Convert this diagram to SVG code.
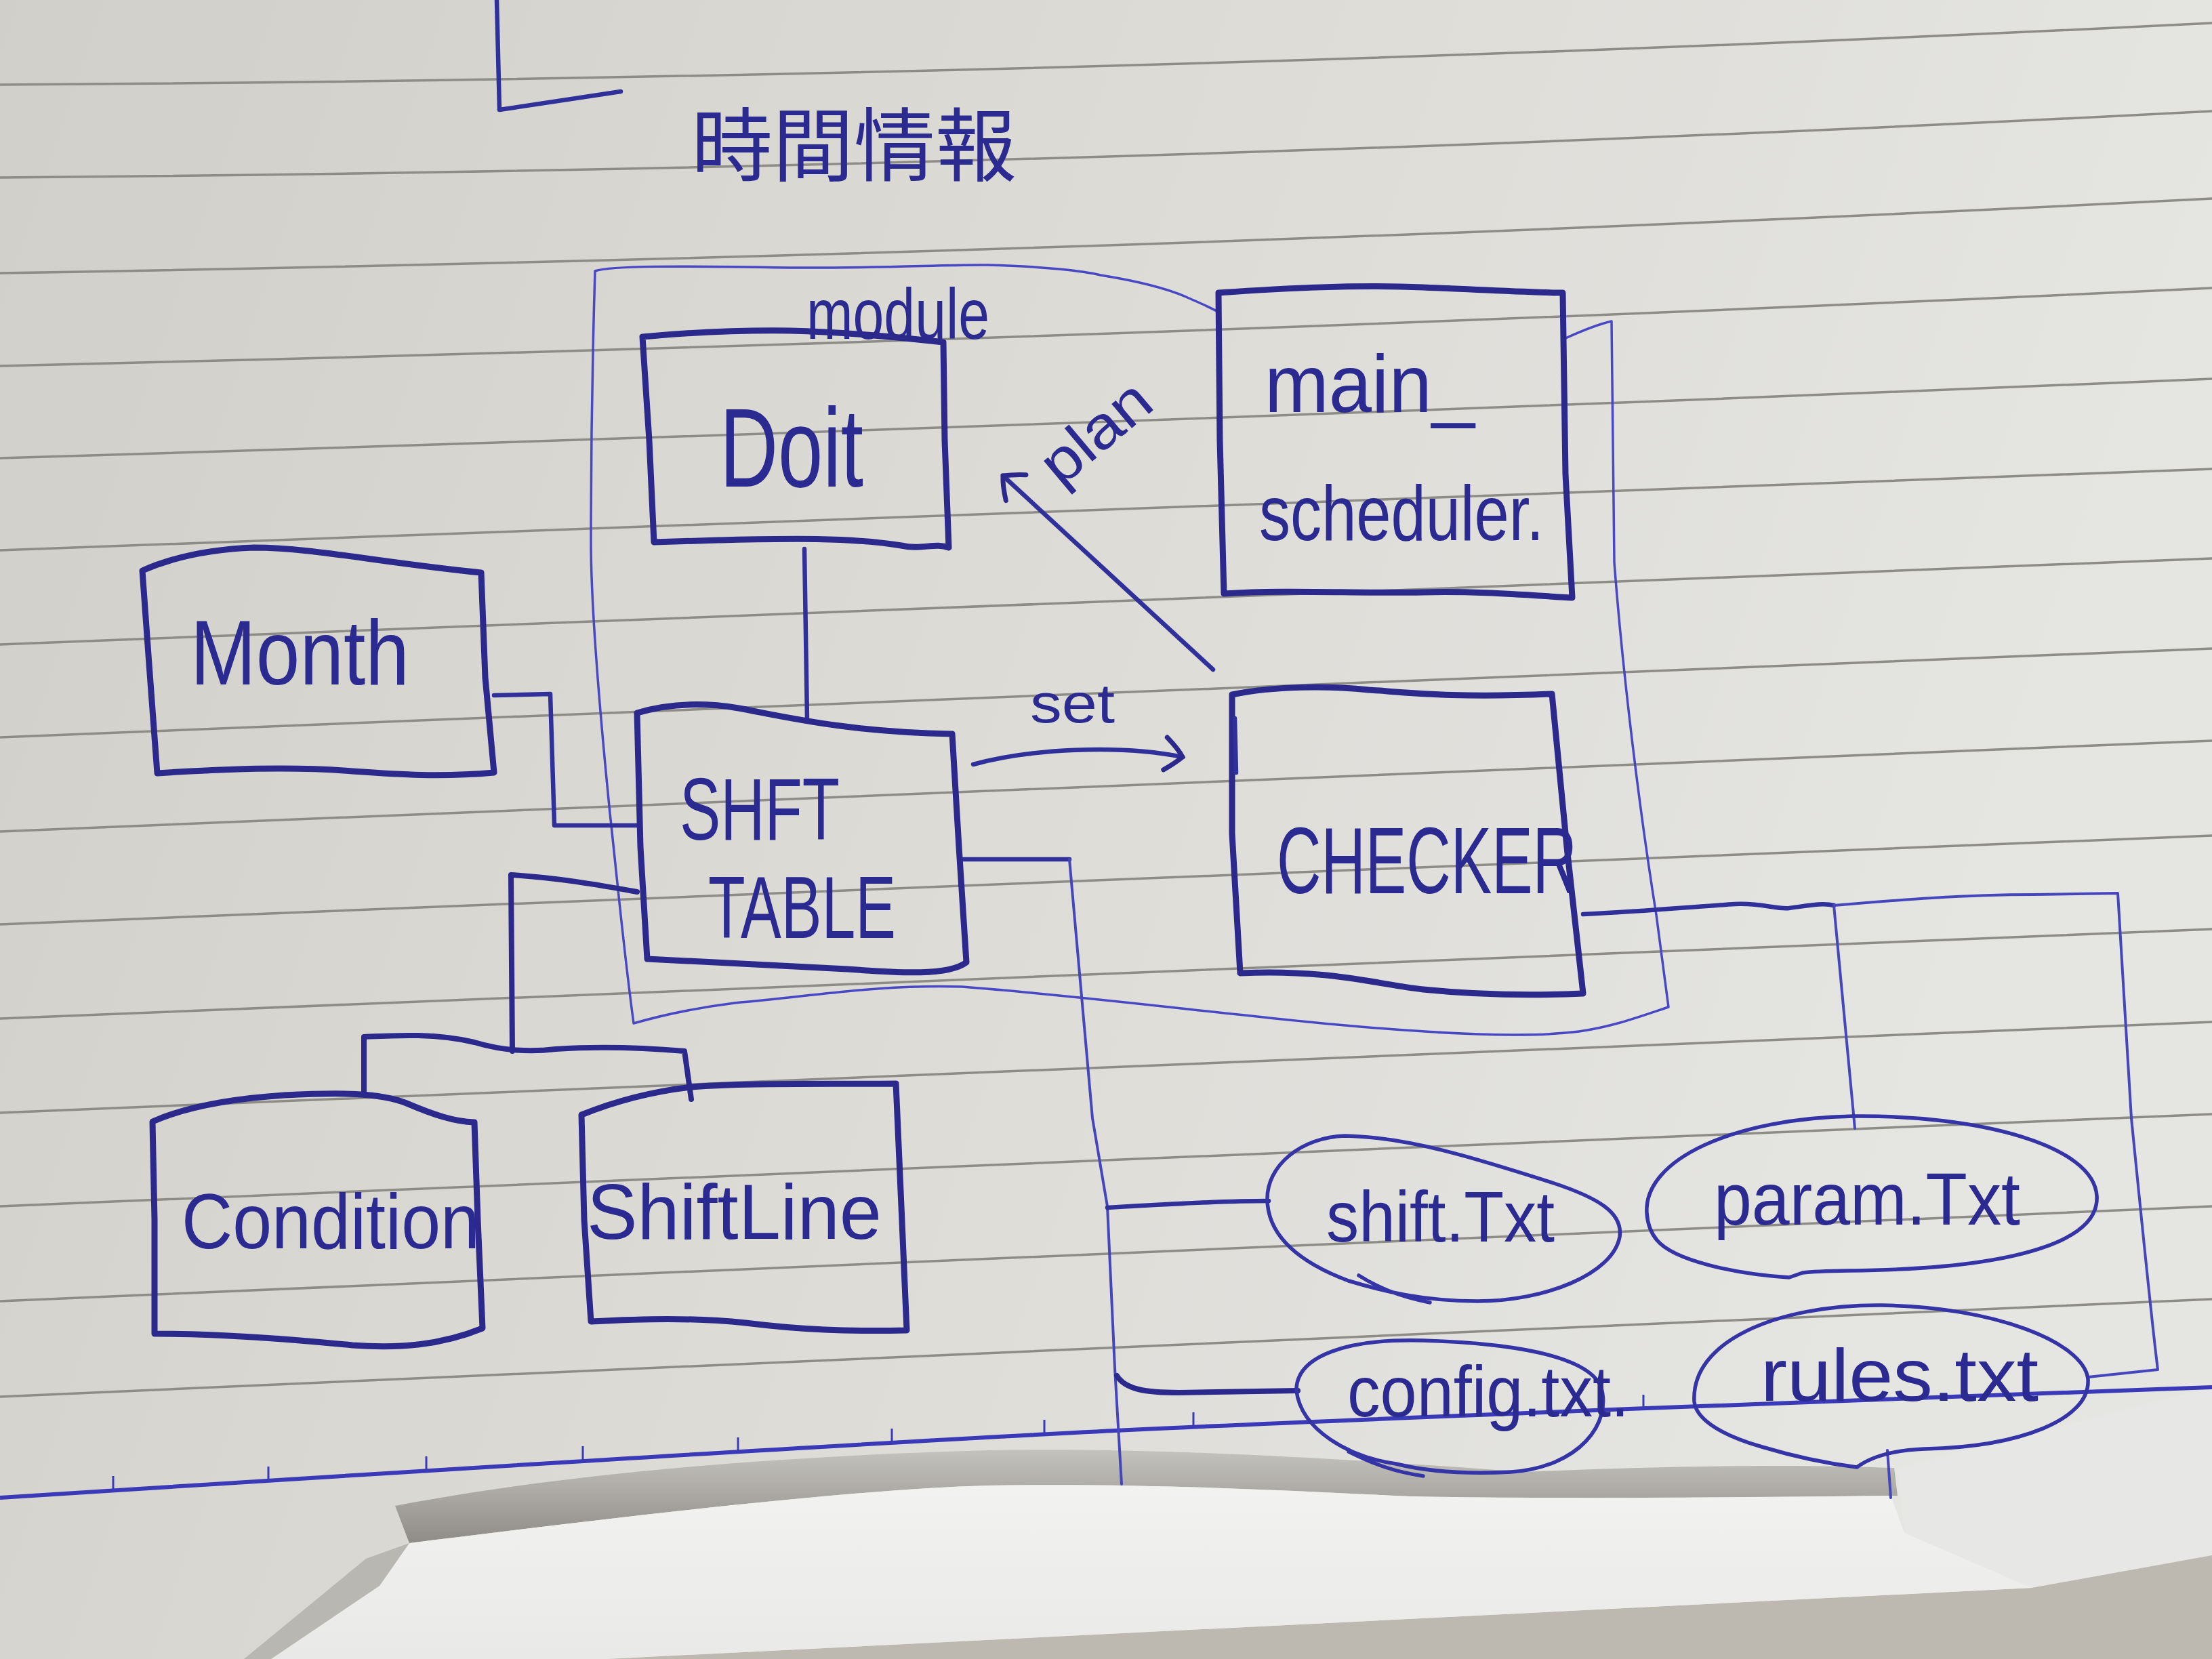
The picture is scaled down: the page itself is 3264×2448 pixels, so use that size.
<svg xmlns="http://www.w3.org/2000/svg" width="3264" height="2448" viewBox="0 0 3264 2448">
<defs>
<linearGradient id="paper" x1="0" y1="0" x2="1" y2="0.25">
<stop offset="0" stop-color="#d0cfc9"/>
<stop offset="0.5" stop-color="#dcdbd6"/>
<stop offset="1" stop-color="#e5e5e2"/>
</linearGradient>
<linearGradient id="shadow" x1="0" y1="0" x2="0" y2="1">
<stop offset="0" stop-color="#c4c2bd"/>
<stop offset="1" stop-color="#8f8c87"/>
</linearGradient>
<linearGradient id="flap" x1="0" y1="0" x2="0" y2="1">
<stop offset="0" stop-color="#f2f2f1"/>
<stop offset="1" stop-color="#e9e9e8"/>
</linearGradient>
<marker id="chev" viewBox="-40 -30 50 60" refX="0" refY="0" markerWidth="50" markerHeight="60" markerUnits="userSpaceOnUse" orient="auto">
<path d="M -28,-24 Q -8,-10 0,0 Q -10,12 -24,24" fill="none" stroke="#2b2a8c" stroke-width="7" stroke-linecap="round"/>
</marker>
<style>
.rule{stroke:#8d8c86;stroke-width:3.5;fill:none}
.box{fill:none;stroke:#2b2a8c;stroke-width:9;stroke-linejoin:round;stroke-linecap:round}
.oval{fill:none;stroke:#3434a6;stroke-width:5.5;stroke-linejoin:round;stroke-linecap:round}
.thin{fill:none;stroke:#4646bc;stroke-width:4;stroke-linecap:round;stroke-linejoin:round}
.mid{fill:none;stroke:#30309a;stroke-width:6.5;stroke-linecap:round;stroke-linejoin:round}
.thick{fill:none;stroke:#2b2a8c;stroke-width:8;stroke-linecap:round;stroke-linejoin:round}
.bound{fill:none;stroke:#4848c4;stroke-width:3.5;stroke-linecap:round;stroke-linejoin:round}
text{font-family:"Liberation Sans","DejaVu Sans","Noto Sans CJK JP",sans-serif;fill:#2a2a90}
.jp{font-family:"Noto Sans CJK JP","Noto Sans CJK SC",sans-serif;fill:#2a2a90}
</style>
</defs>

<g id="paper-bg">
<rect x="0" y="0" width="3264" height="2448" fill="url(#paper)"/>
<path class="rule" d="M0,125 Q1632,115 3264,34 M0,262 Q1632,249 3264,164 M0,403 Q1632,376 3264,293 M0,540 Q1632,502 3264,425 M0,676 Q1632,627 3264,559 M0,812 L3264,692 M0,951 L3264,824 M0,1088 L3264,957 M0,1227 L3264,1093 M0,1364 L3264,1233 M0,1503 L3264,1371 M0,1642 L3264,1508 M0,1780 L3264,1644 M0,1920 L3264,1780 M0,2061 L3264,1917"/>
<path d="M583,2222 C 800,2180 1100,2150 1457,2140 C 1700,2136 1950,2150 2250,2172 C 2450,2163 2650,2160 2795,2166 L 2800,2207 C 2500,2210 2250,2212 2082,2208 C 1900,2200 1700,2188 1457,2192 C 1250,2198 900,2240 604,2277 Z" fill="url(#shadow)"/>
<path d="M2800,2166 L3264,2047 L3264,2295 L2998,2343 L2810,2262 Z" fill="#e7e7e5"/>
<path d="M2998,2343 L3264,2295 L3264,2448 L895,2448 Z" fill="#bdb8b0"/>
<path d="M604,2277 C 900,2240 1250,2198 1457,2192 C 1700,2188 1900,2200 2082,2208 C 2300,2212 2550,2210 2790,2207 L 2810,2262 L 2998,2343 L 895,2448 L 400,2448 L 560,2340 Z" fill="url(#flap)"/>
<path d="M604,2277 L 560,2340 L 400,2448 L 360,2448 L 540,2300 Z" fill="#b9b7b2"/>
<path d="M0,2210 Q 1250,2130 1666,2110 T 3264,2047" fill="none" stroke="#3a3ab8" stroke-width="6"/>
<path d="M167,2200 l0,-22 M396,2186 l0,-22 M629,2171 l0,-22 M860,2156 l0,-22 M1089,2143 l0,-22 M1316,2130 l0,-22 M1541,2117 l0,-22 M1761,2106 l0,-22 M2425,2080 l0,-22" stroke="#3a3ab8" stroke-width="3" fill="none"/>
<path class="mid" d="M733,0 L737,162 L916,135"/>
</g>

<g id="title">
<text class="jp" x="1020" y="258" font-size="118" textLength="480" lengthAdjust="spacingAndGlyphs">時間情報</text>
</g>

<g id="module">
<path class="bound" d="M878,400 C 900,392 1000,392 1166,395 C 1300,396 1400,390 1457,391 C 1540,393 1600,400 1624,406 C 1680,415 1720,425 1750,438 C 1770,447 1790,455 1800,462 M2308,500 C 2330,490 2360,478 2378,474 L 2382,830 C 2395,1000 2420,1200 2444,1350 L 2462,1486 C 2420,1500 2380,1515 2330,1522 C 2280,1528 2230,1528 2181,1526 C 1950,1518 1700,1478 1420,1456 C 1300,1452 1200,1470 1084,1480 C 1020,1488 970,1500 935,1510 C 920,1400 910,1290 900,1200 C 885,1050 872,900 872,800 C 872,650 875,500 878,400"/>
<text x="1190" y="500" font-size="105" textLength="270" lengthAdjust="spacingAndGlyphs">module</text>
</g>

<g id="connectors">
<path class="mid" d="M1187,810 L1191,1062"/>
<path class="mid" d="M729,1026 L812,1024 L818,1218 L940,1218"/>
<path class="thick" d="M940,1316 C 880,1305 820,1295 754,1291 L756,1551"/>
<path class="thick" d="M537,1613 L537,1530 C 580,1528 640,1524 700,1538 C 740,1550 780,1553 820,1548 C 880,1544 950,1546 1010,1551 L1020,1622"/>
<path class="mid" d="M1416,1268 L1578,1268"/>
<path class="thin" d="M1578,1268 L1612,1650 L1634,1780 L1645,2019 L1655,2190"/>
<path class="mid" d="M1634,1782 C 1700,1778 1800,1772 1872,1772"/>
<path class="thick" d="M1648,2030 C 1660,2050 1690,2055 1740,2055 L1915,2052"/>
<path class="mid" d="M2336,1349 C 2420,1345 2500,1338 2560,1334 C 2600,1332 2620,1342 2640,1340 C 2670,1336 2690,1332 2706,1336"/>
<path class="thin" d="M2706,1336 C 2800,1328 2900,1320 3000,1320 L3125,1318 L3145,1650 C 3160,1800 3175,1950 3184,2021 L3081,2032"/>
<path class="thin" d="M2706,1336 L2737,1665"/>
<path class="thin" d="M2785,2140 L2790,2210"/>
<path class="mid" d="M1436,1128 C 1520,1105 1650,1098 1745,1117" marker-end="url(#chev)"/>
<path class="mid" d="M1790,988 L1480,702" marker-end="url(#chev)"/>
<text x="1520" y="1066" font-size="82" textLength="125" lengthAdjust="spacingAndGlyphs">set</text>
<text x="0" y="0" font-size="88" textLength="185" lengthAdjust="spacingAndGlyphs" transform="translate(1565,720) rotate(-40)">plan</text>
</g>

<g id="doit">
<path class="box" d="M948,497 C 1000,492 1080,487 1166,488 C 1250,490 1330,498 1392,505 L1394,650 L1400,808 C 1380,800 1360,812 1330,805 C 1250,792 1150,795 1060,797 L965,800 L958,650 Z"/>
<text x="1062" y="718" font-size="165" textLength="212" lengthAdjust="spacingAndGlyphs">Doit</text>
</g>

<g id="main-scheduler">
<path class="box" d="M1798,432 C 1900,425 2000,420 2100,424 C 2200,428 2260,432 2306,432 L2310,700 L2320,882 C 2250,878 2180,872 2100,874 C 2000,876 1900,870 1806,876 L1800,650 Z"/>
<text x="1866" y="608" font-size="120" textLength="310" lengthAdjust="spacingAndGlyphs">main_</text>
<text x="1858" y="797" font-size="115" textLength="420" lengthAdjust="spacingAndGlyphs">scheduler.</text>
</g>

<g id="month">
<path class="box" d="M210,842 C 260,820 320,810 375,808 C 460,808 560,830 710,845 L716,1000 L729,1140 C 650,1147 590,1143 520,1138 C 430,1130 320,1135 232,1141 L220,980 Z"/>
<text x="281" y="1010" font-size="135" textLength="323" lengthAdjust="spacingAndGlyphs">Month</text>
</g>

<g id="shift-table">
<path class="box" d="M940,1052 C 980,1040 1030,1035 1090,1045 C 1160,1058 1250,1080 1405,1083 L1415,1250 L1426,1420 C 1400,1440 1330,1436 1250,1430 C 1150,1425 1050,1420 955,1415 L945,1250 Z"/>
<text x="1003" y="1239" font-size="130" textLength="236" lengthAdjust="spacingAndGlyphs">SHFT</text>
<text x="1045" y="1384" font-size="130" textLength="277" lengthAdjust="spacingAndGlyphs">TABLE</text>
</g>

<g id="checker">
<path class="box" d="M1818,1025 C 1880,1012 1960,1012 2020,1018 C 2080,1022 2140,1030 2290,1024 L2312,1250 L2336,1466 C 2250,1470 2180,1468 2100,1460 C 2030,1452 1960,1430 1830,1436 L1818,1230 Z"/>
<path class="mid" d="M1822,1060 L1824,1140"/>
<text x="1884" y="1318" font-size="140" textLength="443" lengthAdjust="spacingAndGlyphs">CHECKER</text>
</g>

<g id="condition">
<path class="box" d="M225,1655 C 270,1635 330,1622 420,1616 C 500,1612 560,1612 600,1628 C 640,1645 670,1655 700,1656 L705,1800 L712,1960 C 650,1985 590,1990 520,1985 C 420,1975 320,1968 228,1968 L228,1800 Z"/>
<text x="268" y="1842" font-size="115" textLength="440" lengthAdjust="spacingAndGlyphs">Condition</text>
</g>

<g id="shiftline">
<path class="box" d="M858,1645 C 900,1628 950,1612 1020,1604 C 1100,1598 1200,1600 1322,1599 L1330,1780 L1338,1963 C 1250,1965 1180,1962 1100,1952 C 1020,1944 950,1946 872,1950 L862,1800 Z"/>
<text x="866" y="1828" font-size="115" textLength="435" lengthAdjust="spacingAndGlyphs">ShiftLine</text>
</g>

<g id="shift-txt">
<path class="oval" d="M1870,1772 C 1868,1720 1920,1678 1985,1676 C 2080,1678 2180,1710 2290,1745 C 2360,1768 2395,1790 2390,1825 C 2380,1880 2280,1920 2180,1920 C 2100,1920 2040,1905 1990,1890 C 1910,1860 1872,1820 1870,1772 Z M2005,1882 C 2030,1898 2060,1912 2110,1922"/>
<text x="1957" y="1832" font-size="105" textLength="337" lengthAdjust="spacingAndGlyphs">shift.Txt</text>
</g>

<g id="param-txt">
<path class="oval" d="M2430,1790 C 2425,1710 2560,1650 2735,1647 C 2920,1645 3090,1690 3094,1765 C 3098,1830 2980,1865 2800,1873 C 2740,1876 2690,1874 2660,1878 L2640,1885 C 2560,1880 2470,1860 2445,1830 C 2435,1818 2431,1805 2430,1790 Z"/>
<text x="2529" y="1807" font-size="110" textLength="452" lengthAdjust="spacingAndGlyphs">param.Txt</text>
</g>

<g id="config-txt">
<path class="oval" d="M1913,2052 C 1912,2000 1990,1975 2100,1978 C 2230,1982 2340,2000 2362,2045 C 2380,2100 2330,2165 2230,2172 C 2150,2176 2100,2170 2060,2160 C 1990,2150 1920,2110 1913,2052 Z M1990,2142 C 2030,2162 2060,2172 2100,2178"/>
<text x="1988" y="2090" font-size="105" textLength="416" lengthAdjust="spacingAndGlyphs">config.txt.</text>
</g>

<g id="rules-txt">
<path class="oval" d="M2500,2068 C 2495,1980 2620,1925 2777,1926 C 2940,1928 3075,1980 3081,2035 C 3085,2095 2980,2135 2840,2138 C 2790,2140 2760,2150 2740,2165 C 2700,2160 2650,2150 2600,2135 C 2530,2115 2502,2090 2500,2068 Z"/>
<text x="2598" y="2067" font-size="110" textLength="410" lengthAdjust="spacingAndGlyphs">rules.txt</text>
</g>
</svg>
